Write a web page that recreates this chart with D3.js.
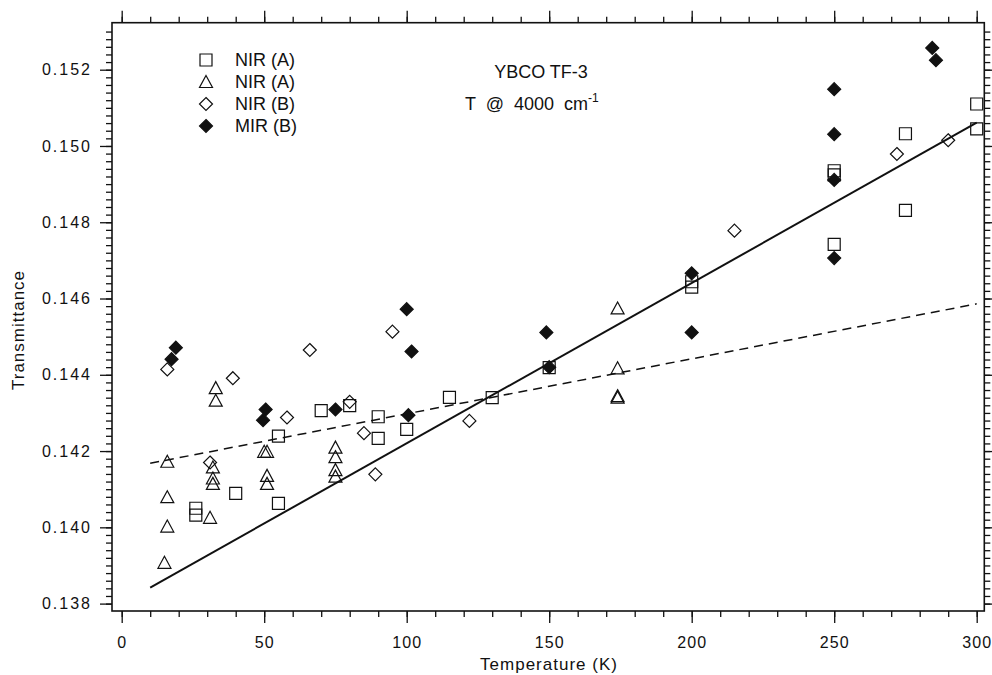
<!DOCTYPE html>
<html>
<head>
<meta charset="utf-8">
<script src="https://cdn.jsdelivr.net/npm/d3@7/dist/d3.min.js"></script>
<style>
  body { margin: 0; background: #fff; }
  svg { display: block; font-family: "Liberation Sans", Arial, Helvetica, sans-serif; }
</style>
</head>
<body>
<div id="container"></div>
<script>
var width = 992;
var height = 675;

// --- data: [temperature K, transmittance] ---
var nirA_square = [
  [26, 0.14050], [26, 0.14032], [40, 0.14089], [55, 0.14239], [55, 0.14063],
  [70, 0.14306], [80, 0.14319], [90, 0.14290], [90, 0.14233], [100, 0.14257],
  [115, 0.14341], [130, 0.14340], [150, 0.14419], [200, 0.14644], [200, 0.14630],
  [250, 0.14935], [250, 0.14924], [250, 0.14742], [275, 0.15032], [275, 0.14831],
  [300, 0.15110], [300, 0.15045]
];
var nirA_triangle = [
  [15, 0.13907], [16, 0.14002], [16, 0.14079], [16, 0.14172],
  [31, 0.14025], [32, 0.14114], [32, 0.14128], [32, 0.14157], [33, 0.14332], [33, 0.14365],
  [50, 0.14198], [51, 0.14198], [51, 0.14135], [51, 0.14114],
  [75, 0.14209], [75, 0.14184], [75, 0.14150], [75, 0.14133],
  [174, 0.14574], [174, 0.14417], [174, 0.14344], [174, 0.14340]
];
var nirB_diamond = [
  [16, 0.14414], [31, 0.14170], [39, 0.14391], [58, 0.14288], [66, 0.14465],
  [80, 0.14329], [85, 0.14247], [89, 0.14139], [95, 0.14513], [122, 0.14279],
  [215, 0.14778], [272, 0.14979], [290, 0.15015]
];
var mirB_diamond = [
  [17.5, 0.14441], [19, 0.14471], [49.6, 0.14281], [50.5, 0.14309], [75, 0.14309],
  [100, 0.14572], [101.7, 0.14461], [100.6, 0.14294], [149, 0.14511], [150, 0.14420],
  [200, 0.14666], [200, 0.14511], [250, 0.15149], [250, 0.15031], [250, 0.14911],
  [250, 0.14706], [284.4, 0.15257], [285.7, 0.15225]
];
// fitted lines (end points)
var fitSolid = [[10, 0.13842], [300, 0.15061]];
var fitDashed = [[10, 0.14168], [300, 0.14586]];

var xTicks = [0, 50, 100, 150, 200, 250, 300];
var yTicks = [0.138, 0.140, 0.142, 0.144, 0.146, 0.148, 0.150, 0.152];
var legendLabels = ["NIR (A)", "NIR (A)", "NIR (B)", "MIR (B)"];
var legendShapes = ["square", "triangle", "diamond", "filled"];

// frame edges (pixels)
var frame = { left: 112, right: 984.3, top: 22.7, bottom: 611 };

var x = d3.scaleLinear().domain([0, 300]).range([121.7, 976.7]);
var y = d3.scaleLinear().domain([0.138, 0.152]).range([603.6, 69.7]);

var svg = d3.select("div#container").append("svg")
    .attr("width", width)
    .attr("height", height);

// minor tick values
var xMinor = d3.range(0, 31).map(function(i) { return i * 10; });
var yMinor = d3.range(690, 766).map(function(i) { return +(i * 0.0002).toFixed(4); });

function drawAxis(axisFn, scale, minor, major, tx, ty, labels) {
  var gMin = svg.append("g")
      .attr("transform", "translate(" + tx + "," + ty + ")")
      .call(axisFn(scale).tickValues(minor).tickSize(6).tickFormat(""));
  var gMaj = svg.append("g")
      .attr("transform", "translate(" + tx + "," + ty + ")")
      .call(axisFn(scale).tickValues(major).tickSize(12)
        .tickPadding(labels === "x" ? 14 : 8)
        .tickFormat(labels === "x" ? d3.format("d") : labels === "y" ? d3.format(".3f") : ""));
  [gMin, gMaj].forEach(function(g) {
    g.select(".domain").remove();
    g.selectAll("line").attr("stroke", "#111").attr("stroke-width", 1.3);
  });
  gMaj.selectAll("text")
      .attr("fill", "#111")
      .style("font-size", "16px")
      .style("letter-spacing", labels === "y" ? "2px" : "1px");
}

drawAxis(d3.axisBottom, x, xMinor, xTicks, 0, frame.bottom, "x");
drawAxis(d3.axisTop, x, xMinor, xTicks, 0, frame.top, "none");
drawAxis(d3.axisLeft, y, yMinor, yTicks, frame.left, 0, "y");
drawAxis(d3.axisRight, y, yMinor, yTicks, frame.right, 0, "none");

// frame
svg.append("rect")
    .attr("x", frame.left)
    .attr("y", frame.top)
    .attr("width", frame.right - frame.left)
    .attr("height", frame.bottom - frame.top)
    .attr("fill", "none")
    .attr("stroke", "#111")
    .attr("stroke-width", 1.6);

// axis titles
svg.append("text")
    .attr("x", 549)
    .attr("y", 670)
    .attr("text-anchor", "middle")
    .style("font-size", "17px")
    .style("letter-spacing", "1px")
    .attr("fill", "#111")
    .text("Temperature (K)");

svg.append("text")
    .attr("transform", "translate(24,330) rotate(-90)")
    .attr("text-anchor", "middle")
    .style("font-size", "17px")
    .style("letter-spacing", "1px")
    .attr("fill", "#111")
    .text("Transmittance");

// fit lines
var line = d3.line()
    .x(function(d) { return x(d[0]); })
    .y(function(d) { return y(d[1]); });

svg.append("path")
    .datum(fitSolid)
    .attr("d", line)
    .attr("fill", "none")
    .attr("stroke", "#111")
    .attr("stroke-width", 2);

svg.append("path")
    .datum(fitDashed)
    .attr("d", line)
    .attr("fill", "none")
    .attr("stroke", "#111")
    .attr("stroke-width", 1.5)
    .attr("stroke-dasharray", "9,6");

// marker shapes
function shapePath(type) {
  if (type === "square") return "M-6,-6H6V6H-6Z";
  if (type === "triangle") return "M0,-6.5L6.5,5.5H-6.5Z";
  return "M0,-6.5L6.5,0L0,6.5L-6.5,0Z";
}

function drawPoints(data, type) {
  svg.append("g").selectAll("path")
      .data(data)
      .enter()
      .append("path")
      .attr("d", shapePath(type))
      .attr("transform", function(d) { return "translate(" + x(d[0]) + "," + y(d[1]) + ")"; })
      .attr("fill", type === "filled" ? "#111" : "none")
      .attr("stroke", "#111")
      .attr("stroke-width", 1.2);
}

drawPoints(nirA_square, "square");
drawPoints(nirA_triangle, "triangle");
drawPoints(nirB_diamond, "diamond");
drawPoints(mirB_diamond, "filled");

// legend
var legend = svg.append("g")
    .attr("transform", "translate(206, 60)");

legendLabels.forEach(function(lab, i) {
  var row = legend.append("g").attr("transform", "translate(0," + (i * 22) + ")");
  row.append("path")
      .attr("d", shapePath(legendShapes[i]))
      .attr("fill", legendShapes[i] === "filled" ? "#111" : "none")
      .attr("stroke", "#111")
      .attr("stroke-width", 1.2);
  row.append("text")
      .attr("x", 29)
      .attr("dy", "0.35em")
      .style("font-size", "18px")
      .attr("fill", "#111")
      .text(lab);
});

// annotation
svg.append("text")
    .attr("x", 541)
    .attr("y", 78)
    .attr("text-anchor", "middle")
    .style("font-size", "18px")
    .attr("fill", "#111")
    .text("YBCO TF-3");

var note = svg.append("text")
    .attr("x", 465)
    .attr("y", 110)
    .style("font-size", "18px")
    .style("white-space", "pre")
    .attr("fill", "#111");
note.append("tspan").text("T  @  4000  cm");
note.append("tspan")
    .attr("dy", -8)
    .style("font-size", "12px")
    .text("-1");
</script>
</body>
</html>
